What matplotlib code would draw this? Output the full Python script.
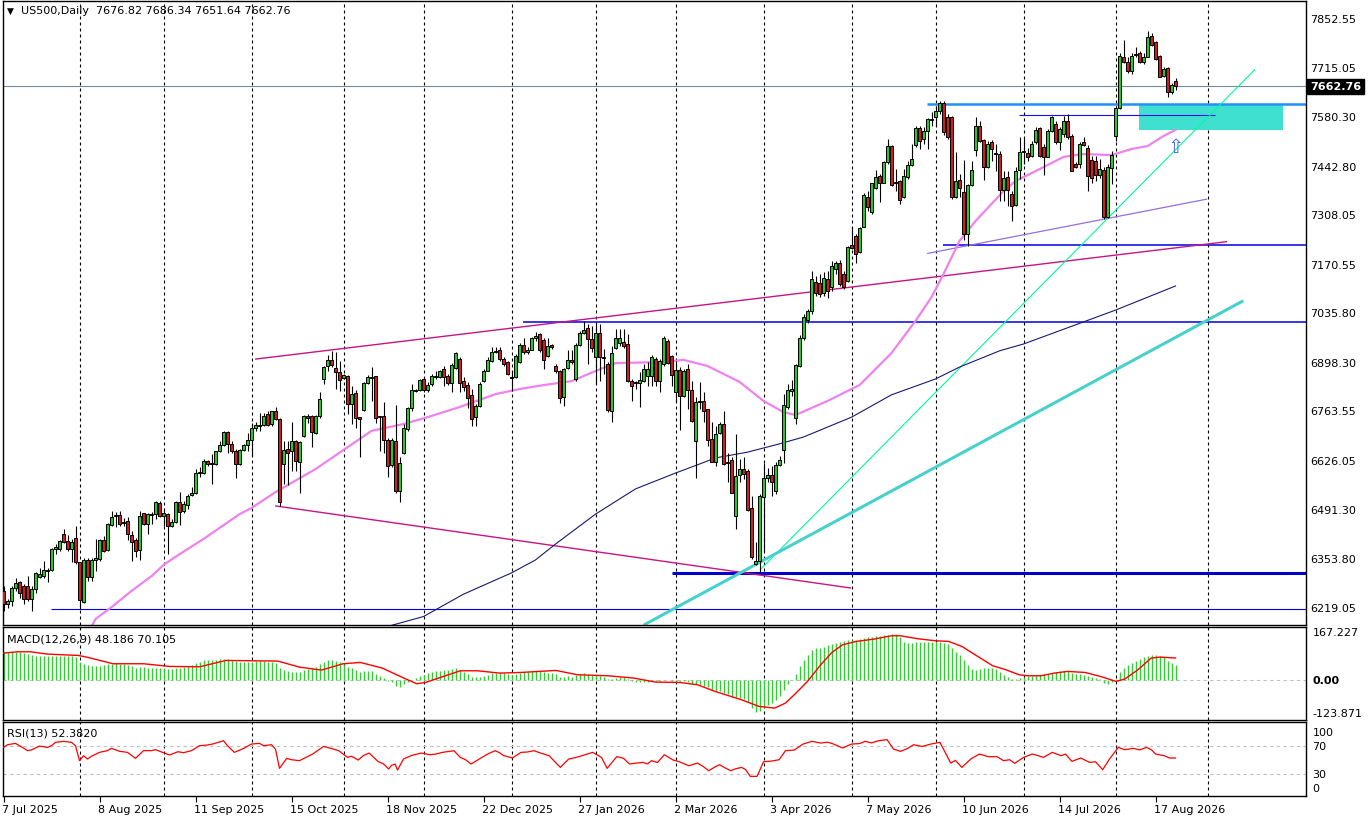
import matplotlib
matplotlib.use("Agg")
import matplotlib.pyplot as plt
import matplotlib.transforms as mtransforms
from matplotlib.patches import Rectangle
import numpy as np
import pandas as pd

# ---- daily candles, US500 ----
opens = [6264, 6227, 6236, 6270, 6287, 6276, 6277, 6242, 6267, 6303,
         6304, 6317, 6321, 6378, 6379, 6420, 6401, 6380, 6409, 6342,
         6233, 6349, 6303, 6350, 6351, 6404, 6376, 6447, 6470, 6473,
         6451, 6457, 6418, 6405, 6377, 6478, 6449, 6475, 6476, 6508,
         6472, 6476, 6443, 6453, 6509, 6484, 6501, 6530, 6534, 6590,
         6591, 6623, 6614, 6615, 6650, 6668, 6703, 6671, 6650, 6616,
         6655, 6667, 6682, 6714, 6720, 6724, 6753, 6725, 6761, 6739,
         6616, 6656, 6650, 6678, 6622, 6692, 6748, 6748, 6702, 6747,
         6852, 6886, 6904, 6881, 6870, 6855, 6859, 6781, 6812, 6745,
         6765, 6840, 6855, 6858, 6748, 6748, 6681, 6613, 6678, 6541,
         6647, 6712, 6770, 6819, 6820, 6850, 6820, 6837, 6857, 6857,
         6879, 6858, 6840, 6881, 6906, 6844, 6835, 6807, 6745, 6777,
         6846, 6874, 6902, 6925, 6930, 6906, 6899, 6857, 6856, 6899,
         6946, 6925, 6931, 6965, 6976, 6959, 6916, 6945, 6886, 6872,
         6802, 6881, 6904, 6851, 6945, 6979, 6992, 6962, 6913, 6979,
         6912, 6892, 6763, 6938, 6950, 6953, 6948, 6844, 6840, 6839,
         6846, 6858, 6860, 6906, 6846, 6892, 6956, 6914, 6816, 6876,
         6805, 6880, 6820, 6680, 6786, 6789, 6767, 6684, 6620, 6700,
         6726, 6617, 6626, 6472, 6585, 6601, 6597, 6492, 6339, 6347,
         6523, 6575, 6585, 6541, 6612, 6655, 6774, 6818, 6743, 6888,
         6966, 7015, 7040, 7119, 7117, 7089, 7128, 7105, 7156, 7173,
         7142, 7122, 7224, 7247, 7202, 7273, 7355, 7313, 7381, 7414,
         7396, 7452, 7496, 7396, 7399, 7357, 7410, 7445, 7501, 7547,
         7517, 7538, 7570, 7579, 7595, 7616, 7577, 7577, 7355, 7403,
         7371, 7253, 7390, 7487, 7554, 7514, 7440, 7509, 7478, 7475,
         7376, 7410, 7364, 7334, 7432, 7480, 7477, 7470, 7507, 7546,
         7495, 7468, 7538, 7558, 7507, 7530, 7567, 7526, 7447, 7447,
         7507, 7493, 7458, 7455, 7418, 7431, 7301, 7436, 7526, 7602,
         7743, 7729, 7706, 7751, 7754, 7729, 7745, 7803, 7785, 7746,
         7692, 7713, 7648, 7676.82]
highs = [6276, 6241, 6278, 6299, 6291, 6282, 6305, 6278, 6315, 6327,
         6345, 6327, 6382, 6392, 6405, 6434, 6418, 6406, 6442, 6344,
         6353, 6353, 6355, 6406, 6406, 6416, 6452, 6486, 6481, 6486,
         6465, 6467, 6430, 6410, 6484, 6480, 6480, 6481, 6513, 6512,
         6493, 6478, 6463, 6512, 6537, 6513, 6532, 6550, 6601, 6608,
         6629, 6626, 6643, 6652, 6678, 6707, 6706, 6680, 6657, 6658,
         6671, 6700, 6728, 6733, 6757, 6757, 6761, 6763, 6774, 6743,
         6678, 6678, 6731, 6682, 6678, 6752, 6754, 6751, 6751, 6814,
         6887, 6918, 6929, 6925, 6902, 6865, 6861, 6832, 6820, 6746,
         6842, 6862, 6885, 6860, 6749, 6786, 6687, 6687, 6780, 6634,
         6726, 6772, 6837, 6823, 6851, 6856, 6842, 6865, 6874, 6876,
         6888, 6865, 6894, 6927, 6911, 6856, 6842, 6823, 6782, 6842,
         6879, 6911, 6939, 6939, 6939, 6911, 6902, 6874, 6920, 6950,
         6966, 6939, 6968, 6980, 6979, 6966, 6966, 6948, 6893, 6876,
         6881, 6930, 6930, 6950, 6985, 7011, 7003, 6999, 7003, 7003,
         6934, 6897, 6943, 6990, 6990, 6991, 6976, 6851, 6846, 6869,
         6892, 6897, 6917, 6911, 6906, 6969, 6962, 6917, 6902, 6883,
         6879, 6892, 6846, 6800, 6843, 6814, 6769, 6731, 6721, 6732,
         6763, 6647, 6634, 6698, 6629, 6634, 6601, 6527, 6398, 6532,
         6618, 6603, 6609, 6622, 6636, 6809, 6837, 6848, 6892, 6973,
         7030, 7045, 7151, 7137, 7142, 7147, 7151, 7179, 7179, 7182,
         7151, 7221, 7272, 7253, 7272, 7366, 7373, 7396, 7431, 7420,
         7455, 7517, 7501, 7433, 7403, 7433, 7457, 7503, 7552, 7554,
         7549, 7575, 7591, 7609, 7621, 7621, 7586, 7581, 7480, 7420,
         7458, 7392, 7457, 7577, 7568, 7517, 7512, 7514, 7503, 7484,
         7429, 7429, 7373, 7438, 7521, 7521, 7493, 7512, 7549, 7551,
         7503, 7544, 7581, 7566, 7549, 7581, 7586, 7530, 7452, 7507,
         7521, 7501, 7470, 7470, 7461, 7438, 7447, 7484, 7609, 7754,
         7791, 7743, 7754, 7771, 7762, 7754, 7815, 7810, 7789, 7751,
         7717, 7717, 7671, 7686.34]
lows = [6208, 6217, 6222, 6264, 6243, 6227, 6236, 6208, 6257, 6299,
        6298, 6289, 6319, 6365, 6374, 6397, 6373, 6343, 6338, 6213,
        6229, 6291, 6291, 6317, 6347, 6370, 6373, 6444, 6439, 6444,
        6444, 6405, 6347, 6356, 6350, 6447, 6421, 6449, 6463, 6469,
        6442, 6365, 6439, 6451, 6446, 6480, 6490, 6527, 6532, 6578,
        6587, 6610, 6560, 6613, 6648, 6666, 6645, 6647, 6576, 6613,
        6652, 6652, 6638, 6707, 6707, 6721, 6721, 6721, 6737, 6498,
        6560, 6558, 6595, 6597, 6536, 6689, 6728, 6661, 6698, 6744,
        6837, 6874, 6883, 6823, 6819, 6851, 6754, 6726, 6715, 6635,
        6763, 6837, 6791, 6728, 6652, 6647, 6578, 6606, 6536, 6509,
        6643, 6708, 6763, 6814, 6819, 6814, 6814, 6832, 6851, 6854,
        6832, 6835, 6814, 6879, 6814, 6817, 6770, 6721, 6721, 6772,
        6842, 6872, 6897, 6922, 6902, 6888, 6862, 6819, 6854, 6894,
        6920, 6920, 6930, 6957, 6925, 6879, 6911, 6934, 6867, 6783,
        6777, 6879, 6893, 6846, 6943, 6976, 6893, 6925, 6837, 6846,
        6865, 6758, 6731, 6934, 6943, 6936, 6842, 6791, 6823, 6774,
        6842, 6832, 6832, 6832, 6816, 6888, 6892, 6832, 6786, 6709,
        6802, 6768, 6731, 6575, 6768, 6732, 6666, 6620, 6609, 6698,
        6612, 6564, 6535, 6435, 6564, 6573, 6486, 6351, 6335, 6316,
        6375, 6564, 6527, 6532, 6610, 6618, 6769, 6805, 6726, 6883,
        6960, 7005, 7030, 7082, 7077, 7082, 7076, 7096, 7142, 7110,
        7101, 7119, 7212, 7172, 7200, 7272, 7316, 7310, 7378, 7341,
        7394, 7447, 7387, 7373, 7336, 7353, 7406, 7443, 7494, 7489,
        7503, 7489, 7554, 7554, 7586, 7529, 7517, 7350, 7353, 7355,
        7236, 7221, 7387, 7470, 7507, 7403, 7436, 7457, 7429, 7346,
        7346, 7332, 7288, 7332, 7406, 7447, 7457, 7466, 7503, 7466,
        7418, 7466, 7535, 7503, 7486, 7521, 7517, 7427, 7436, 7436,
        7498, 7373, 7396, 7401, 7408, 7295, 7297, 7392, 7512, 7600,
        7727, 7701, 7697, 7743, 7727, 7725, 7743, 7776, 7736, 7688,
        7688, 7634, 7641, 7651.64]
closes = [6227, 6234, 6270, 6284, 6256, 6242, 6242, 6267, 6312, 6310,
          6320, 6321, 6379, 6384, 6401, 6400, 6380, 6398, 6344, 6239,
          6350, 6303, 6350, 6354, 6404, 6375, 6450, 6468, 6473, 6449,
          6454, 6420, 6400, 6375, 6470, 6449, 6476, 6476, 6510, 6471,
          6480, 6442, 6455, 6509, 6482, 6504, 6525, 6535, 6589, 6593,
          6623, 6616, 6617, 6650, 6668, 6703, 6671, 6650, 6616, 6654,
          6667, 6683, 6714, 6722, 6723, 6748, 6724, 6761, 6739, 6511,
          6654, 6647, 6678, 6624, 6675, 6748, 6742, 6705, 6748, 6795,
          6884, 6904, 6891, 6869, 6847, 6862, 6781, 6809, 6744, 6740,
          6840, 6856, 6857, 6744, 6745, 6682, 6610, 6683, 6539, 6617,
          6714, 6770, 6820, 6820, 6848, 6820, 6834, 6858, 6860, 6872,
          6857, 6840, 6890, 6923, 6840, 6830, 6797, 6740, 6775, 6837,
          6873, 6903, 6925, 6928, 6907, 6893, 6865, 6854, 6914, 6945,
          6926, 6931, 6965, 6970, 6931, 6905, 6942, 6939, 6872, 6797,
          6879, 6904, 6897, 6945, 6979, 6988, 6962, 6936, 6979, 6913,
          6909, 6765, 6923, 6964, 6966, 6943, 6844, 6832, 6843, 6848,
          6879, 6879, 6911, 6846, 6902, 6964, 6895, 6862, 6876, 6805,
          6873, 6820, 6735, 6786, 6789, 6763, 6682, 6622, 6698, 6726,
          6615, 6622, 6536, 6581, 6601, 6587, 6488, 6356, 6347, 6527,
          6575, 6585, 6564, 6612, 6626, 6779, 6820, 6823, 6890, 6966,
          7022, 7040, 7128, 7089, 7087, 7131, 7096, 7163, 7173, 7114,
          7107, 7216, 7214, 7198, 7269, 7361, 7329, 7394, 7410, 7396,
          7452, 7496, 7390, 7397, 7348, 7413, 7444, 7460, 7547, 7512,
          7538, 7572, 7572, 7593, 7616, 7535, 7523, 7355, 7399, 7380,
          7253, 7389, 7431, 7554, 7512, 7438, 7503, 7489, 7475, 7376,
          7408, 7376, 7332, 7429, 7482, 7484, 7466, 7503, 7542, 7470,
          7468, 7538, 7577, 7507, 7544, 7567, 7521, 7429, 7440, 7503,
          7501, 7415, 7408, 7418, 7433, 7301, 7440, 7473, 7603, 7748,
          7729, 7706, 7748, 7752, 7729, 7743, 7800, 7778, 7739, 7690,
          7711, 7646, 7666, 7662.76]
# days without a bar (market closed)
closed_days = ["2025-12-25", "2026-01-01"]

# moving averages (vertices: bar index, price)
ma50_bar = [22.2, 23, 27, 32, 37, 40, 44, 50, 59, 62, 68, 78, 85, 92, 100, 106,
            114, 123, 129, 135, 142, 148, 153, 165, 170, 176, 184, 190, 195,
            198, 206, 214, 222, 228, 232, 235, 239, 243, 250, 253, 259, 265,
            270, 277, 282, 286, 290, 293]
ma50_val = [6168, 6185, 6218, 6263, 6304, 6335, 6365, 6407, 6476, 6493, 6537,
            6601, 6654, 6707, 6726, 6745, 6773, 6809, 6823, 6834, 6845, 6873,
            6895, 6898, 6904, 6887, 6843, 6790, 6759, 6751, 6790, 6834, 6923,
            7012, 7078, 7142, 7234, 7289, 7372, 7400, 7433, 7467, 7475, 7472,
            7489, 7497, 7525, 7542]
ma200_bar = [96.5, 105, 115, 127, 133, 138, 148, 158, 168, 174, 178, 186, 194,
             200, 212, 222, 233, 239, 249, 255, 278, 293]
ma200_val = [6166, 6192, 6254, 6313, 6349, 6393, 6476, 6546, 6590, 6615, 6632,
             6648, 6671, 6690, 6745, 6807, 6851, 6884, 6929, 6948, 7042, 7109]

# MACD(12,26,9): main value per bar, signal line vertices
macd_main = [88, 89, 90, 90, 88, 86, 82, 80, 78, 77,
             76, 76, 75, 75, 76, 76, 77, 76, 74, 58,
             50, 47, 46, 45, 46, 47, 50, 52, 53, 52,
             50, 47, 44, 40, 42, 41, 40, 39, 40, 39,
             38, 37, 37, 39, 40, 42, 45, 48, 55, 58,
             63, 64, 64, 65, 66, 68, 66, 63, 60, 59,
             58, 58, 59, 60, 60, 60, 59, 58, 55, 40,
             33, 28, 27, 25, 26, 33, 36, 38, 41, 50,
             58, 63, 64, 62, 58, 52, 42, 38, 33, 25,
             28, 30, 29, 20, 14, 8, -2, -6, -18, -20,
             -12, -5, 2, 8, 14, 18, 22, 26, 28, 31,
             33, 32, 35, 38, 32, 27, 20, 12, 10, 12,
             15, 18, 22, 24, 24, 23, 21, 18, 20, 24,
             25, 26, 28, 30, 29, 25, 24, 23, 20, 12,
             12, 13, 12, 16, 20, 22, 20, 18, 18, 14,
             12, 4, 6, 9, 10, 10, 4, -2, -5, -6,
             -5, -4, -2, -3, -3, 2, 2, -1, -3, -2,
             -3, -4, -10, -12, -14, -16, -22, -30, -32, -33,
             -40, -44, -52, -52, -55, -58, -68, -85, -100, -95,
             -85, -78, -72, -62, -50, -30, -12, 2, 20, 45,
             65, 80, 95, 100, 103, 106, 110, 115, 118, 121,
             122, 125, 127, 128, 130, 134, 135, 136, 138, 139,
             141, 143, 146, 144, 137, 120, 118, 118, 119, 120,
             119, 119, 120, 121, 120, 118, 115, 100, 90, 80,
             65, 48, 35, 33, 35, 38, 40, 38, 35, 25,
             18, 12, 6, 4, 8, 12, 14, 15, 17, 18,
             20, 21, 24, 27, 29, 30, 28, 24, 20, 19,
             18, 14, 10, 7, 5, -8, -10, -6, 4, 25,
             40, 48, 55, 62, 68, 72, 78, 80, 80, 76,
             72, 62, 56, 48.186]
signal_bar = [0, 3.5, 6.7, 11, 18.7, 20.8, 27.4, 35, 41.5, 49.1, 55.6, 68.6, 74,
              79.5, 84.9, 89.2, 94.7, 100.1, 103.3, 105.5, 114.2, 118.5, 124,
              129.4, 138.1, 143.5, 151.1, 157.6, 163, 169.1, 173.5, 177.9, 184.5,
              188.9, 192.8, 195.5, 197.7, 201, 204.3, 207.1, 209.8, 213.2, 217.6,
              222, 224.2, 228.6, 233, 236.3, 239.6, 242.9, 247.3, 250.6, 253.9,
              256.1, 259.4, 262.7, 266, 270.4, 274.8, 278.1, 280.3, 283.6, 286.9,
              289.1, 293]
signal_val = [85.5, 89.7, 89.7, 82.4, 78.2, 73, 52.2, 52.2, 43.8, 42.8, 62.6,
              60.5, 41.7, 32.3, 52.2, 56.3, 38.6, 7.3, -10.4, -6.3, 30.2, 30.2,
              22.9, 25, 31.3, 17.7, 14.6, 7.3, -5.2, -6.3, -13.6, -34.4, -60.5,
              -81.4, -86.6, -70.9, -44.8, -3.1, 49, 87.6, 111.6, 122, 129.3,
              139.8, 139.8, 130.4, 124.1, 122, 106.4, 80.3, 45.9, 33.4, 17.7,
              14.6, 14.6, 22.9, 28.2, 25, 10.4, -3.1, 4.2, 33.4, 69.9, 73, 70.105]

# RSI(13) vertices
rsi_bar = [0, 1, 3, 5, 6, 7, 9, 11, 12, 13, 15, 17, 18, 19, 20, 21, 22, 24, 26,
           27, 29, 31, 33, 35, 37, 38, 40, 41.5, 43.6, 45, 47, 49, 51, 52.3, 55,
           56, 57.7, 60, 62, 64, 65, 67, 68, 69, 70.8, 72, 74, 75.5, 77.3, 80,
           82, 83.8, 86, 87, 88.7, 90, 91.4, 93.6, 95, 96.3, 97, 97.9, 98.5,
           100, 102, 104.4, 106.6, 108, 109.8, 112.6, 114.2, 115.5, 116.9,
           119.6, 121, 122.9, 124, 125, 127.2, 129.4, 131, 132.6, 134, 136.4,
           139.2, 141.3, 143, 144.6, 147.3, 149.5, 150.9, 153.3, 155, 156.5,
           158, 159.8, 161, 162, 163.5, 165.2, 167.4, 169, 171.3, 173.5, 175,
           176.3, 178, 179, 180.5, 181.8, 183, 184.5, 185.5, 186.7, 188.4, 190,
           192, 193.9, 195.5, 197.7, 199.9, 202.1, 204.3, 206, 207.1, 209.8,
           212, 214, 215.4, 217, 218.7, 220.9, 222.5, 224.2, 226, 227.5, 229.7,
           231.9, 234.1, 235.2, 236.8, 238, 239.6, 241.8, 244, 246.2, 248.4,
           250, 251.5, 252.8, 255, 257.2, 258.5, 260, 262.2, 264.4, 265.5,
           267.1, 269.3, 271.5, 273, 274.8, 276.5, 278.7, 280.3, 282.5, 284,
           285.8, 287, 288, 290.2, 291.5, 293]
rsi_val = [67.6, 71.4, 73.3, 66.7, 62.9, 64, 69.5, 67.6, 70, 74.8, 76.2, 74.8,
           70, 48.6, 55.7, 51, 55, 60.5, 63, 66.2, 62, 60.5, 51.9, 62.9, 63,
           64.3, 60, 56.7, 61.4, 60, 62.9, 70, 71, 72.4, 77.1, 70, 60.5, 66,
           72.4, 73.3, 70, 71.4, 65, 37.6, 51.9, 50, 48.6, 53, 58.1, 69, 66,
           62.9, 53.3, 55, 49.5, 56, 59.5, 47.6, 44, 36.7, 42, 43.8, 35.2, 51,
           56, 59.5, 57.1, 58, 60.5, 62.9, 53.3, 50, 43.8, 53.3, 58, 62.9, 60,
           56, 52.4, 60.5, 61, 62.9, 60, 55.7, 39, 51, 53, 55.7, 60.5, 53.3,
           37.6, 54.3, 52, 43.8, 45, 46.2, 44, 48.6, 46, 57.1, 49.5, 47, 41.4,
           45.2, 40, 34.3, 40, 42.9, 38, 34.3, 37, 39, 36, 26.2, 26.2, 47.1,
           48, 50, 62.9, 63.8, 72.4, 76.2, 73.8, 75, 73.3, 66.7, 72.4, 73,
           76.2, 74, 77.1, 78.6, 65.2, 61.9, 66, 71.4, 69, 72.4, 74.8, 62.9,
           45.2, 49, 39, 51, 58.1, 54.3, 54.3, 48.6, 50, 44.8, 53.3, 58.1, 56,
           53.3, 60.5, 55.7, 58, 47.6, 52.4, 46.2, 47, 35.7, 51, 67.6, 64.3,
           66.2, 64, 67.6, 64, 58.1, 55.7, 52.4, 52.382]

# chart objects (bar index, price)
price_ticks = [7852.55, 7715.05, 7580.30, 7442.80, 7308.05, 7170.55, 7035.80,
               6898.30, 6763.55, 6626.05, 6491.30, 6353.80, 6219.05]
hline_top = (230.9, 7614)         # dodger blue resistance
hline_range = (253.9, 302.9, 7582)
hline_7222 = (234.9, 7222)
hline_7010 = (129.95, 7010)
hline_6312 = (167.05, 6312)
hline_6213 = (11.9, 6213)
zone_bars = (283.9, 319.8)
zone_prices = (7542, 7613)
upper_channel = [(62.9, 6906), (305.9, 7232)]
lower_channel = [(67.9, 6499), (211.9, 6271)]
purple_line = [(230.9, 7199), (300.9, 7350)]
green_line = [(189.1, 6321), (312.9, 7710)]
cyan_line = [(160.0, 6168), (309.95, 7068)]
arrow_at = (293, 7497)

W, H = 1370, 820
fig = plt.figure(figsize=(W / 100, H / 100), dpi=100)
fig.patch.set_facecolor("white")


def px_axes(x0, y0, x1, y1):
    return fig.add_axes([x0 / W, 1 - y1 / H, (x1 - x0) / W, (y1 - y0) / H])


ax = px_axes(3, 2, 1306, 626)
ax_macd = px_axes(3, 628, 1306, 721)
ax_rsi = px_axes(3, 723, 1306, 797)

n = len(closes)
x = np.arange(n)
o = np.array(opens, float)
h = np.array(highs, float)
l = np.array(lows, float)
c = np.array(closes, float)
dates = pd.bdate_range("2025-07-07", periods=n, freq="C", holidays=closed_days)

xlim = (-0.125, 325.625)
month_starts = [i for i in range(1, n) if dates[i].month != dates[i - 1].month]
month_starts.append(301)  # next month start drawn past the last bar

for a in (ax, ax_macd, ax_rsi):
    a.set_xlim(*xlim)
    for s in a.spines.values():
        s.set_color("black")
        s.set_linewidth(1)
    a.set_facecolor("white")
    for m in month_starts:
        a.axvline(m, color="black", lw=0.8, linestyle=(0, (2.7, 2.7)), zorder=0.5)

# ---- main chart ----
ax.set_ylim(6168.5, 7899.5)

ax.add_patch(Rectangle((zone_bars[0], zone_prices[0]), zone_bars[1] - zone_bars[0],
                       zone_prices[1] - zone_prices[0], facecolor="#40E0D0",
                       edgecolor="none", zorder=1))

ax.axhline(c[-1], color="#778899", lw=0.8, zorder=1.5)
ax.hlines(hline_top[1], hline_top[0], 400, color="#1E90FF", lw=1.8, zorder=2)
ax.hlines(hline_range[2], hline_range[0], hline_range[1], color="#1010F0", lw=0.8, zorder=2)
ax.hlines(hline_7222[1], hline_7222[0], 400, color="#0000E0", lw=1.1, zorder=2)
ax.hlines(hline_7010[1], hline_7010[0], 400, color="#0000E0", lw=1.1, zorder=2)
ax.hlines(hline_6312[1], hline_6312[0], 400, color="#0000CD", lw=2.2, zorder=2)
ax.hlines(hline_6213[1], hline_6213[0], 400, color="#0000E0", lw=0.8, zorder=2)

for pts, col, lw in [(upper_channel, "#C71585", 1.0), (lower_channel, "#C71585", 1.0),
                     (purple_line, "#9370DB", 0.9), (green_line, "#00FA9A", 0.8),
                     (cyan_line, "#48D1CC", 2.2)]:
    xs, ys = zip(*pts)
    ax.plot(xs, ys, color=col, lw=lw, zorder=2, solid_capstyle="butt")

ax.plot(ma200_bar, ma200_val, color="#191970", lw=0.8, zorder=2.5)
ax.plot(ma50_bar, ma50_val, color="#EE82EE", lw=1.6, zorder=2.5)

up = c >= o
ax.vlines(x, l, h, color="black", lw=0.8, zorder=3)
ax.bar(x[up], c[up] - o[up], bottom=o[up], width=0.6, color="#22CC22",
       edgecolor="black", linewidth=0.7, zorder=4)
ax.bar(x[~up], o[~up] - c[~up], bottom=c[~up], width=0.6, color="#D01E1E",
       edgecolor="black", linewidth=0.7, zorder=4)

ax.text(arrow_at[0], arrow_at[1], "\u21e7", color="#4169E1", fontsize=14,
        ha="center", va="center", zorder=5)

ax.set_xticks([])
ax.set_yticks(price_ticks)
ax.set_yticklabels([f"{p:.2f}" for p in price_ticks])
ax.yaxis.tick_right()
ax.tick_params(axis="y", length=0, pad=3, labelsize=8, colors="black")

ax.annotate(f"{c[-1]:.2f}", xy=(1, c[-1]), xycoords=("axes fraction", "data"),
            xytext=(4, 0), textcoords="offset pixels", ha="left", va="center",
            fontsize=8, color="white", fontweight="bold", annotation_clip=False,
            bbox=dict(boxstyle="square,pad=0.25", facecolor="black", edgecolor="black"))

fig.text(7 / W, 1 - 11 / H, "\u25bc", fontsize=6.5, ha="left", va="center")
fig.text(21 / W, 1 - 11 / H,
         f"US500,Daily  {opens[-1]:.2f} {highs[-1]:.2f} {lows[-1]:.2f} {closes[-1]:.2f}",
         fontsize=8, ha="left", va="center", color="black")

# ---- MACD ----
ax_macd.set_ylim(-123.871, 167.227)
ax_macd.axhline(0, color="#C0C0C0", lw=0.8, linestyle=(0, (3, 3)), zorder=0.6)
ax_macd.vlines(x, 0, macd_main, color="#32CD32", lw=1.0, zorder=2)
ax_macd.plot(signal_bar, signal_val, color="red", lw=1.0, zorder=3)
ax_macd.set_xticks([])
ax_macd.set_yticks([])
tr = mtransforms.blended_transform_factory(ax_macd.transAxes, ax_macd.transData)
ax_macd.text(1.005, 167.227, "167.227", transform=tr, ha="left", va="top", fontsize=8)
ax_macd.text(1.005, 0, "0.00", transform=tr, ha="left", va="center", fontsize=8,
             fontweight="bold")
ax_macd.text(1.005, -118, "-123.871", transform=tr, ha="left", va="bottom",
             fontsize=8)
ax_macd.text(0.003, 0.93, f"MACD(12,26,9) {macd_main[-1]:.3f} {signal_val[-1]:.3f}",
             transform=ax_macd.transAxes, ha="left", va="top", fontsize=8)

# ---- RSI ----
ax_rsi.set_ylim(-1.86, 103.86)
for lev in (30, 70):
    ax_rsi.axhline(lev, color="#C0C0C0", lw=0.8, linestyle=(0, (3, 3)), zorder=0.6)
ax_rsi.plot(rsi_bar, rsi_val, color="red", lw=0.9, zorder=3)
ax_rsi.set_yticks([])
tr2 = mtransforms.blended_transform_factory(ax_rsi.transAxes, ax_rsi.transData)
ax_rsi.text(1.005, 97, "100", transform=tr2, ha="left", va="top", fontsize=8)
ax_rsi.text(1.005, 70, "70", transform=tr2, ha="left", va="center", fontsize=8)
ax_rsi.text(1.005, 30, "30", transform=tr2, ha="left", va="center", fontsize=8)
ax_rsi.text(1.005, 3, "0", transform=tr2, ha="left", va="bottom", fontsize=8)
ax_rsi.text(0.003, 0.93, f"RSI(13) {rsi_val[-1]:.4f}", transform=ax_rsi.transAxes,
            ha="left", va="top", fontsize=8)

label_idx = list(range(0, n, 24))
ax_rsi.set_xticks(label_idx)
ax_rsi.set_xticklabels([f"{dates[i].day} {dates[i].strftime('%b %Y')}" for i in label_idx],
                       ha="left", fontsize=8)
ax_rsi.tick_params(axis="x", direction="out", length=4, pad=2, colors="black")
for lab in ax_rsi.get_xticklabels():
    lab.set_transform(lab.get_transform() + mtransforms.ScaledTranslation(-2 / 100, 0, fig.dpi_scale_trans))

fig.savefig("out.png", dpi=100, facecolor="white")
